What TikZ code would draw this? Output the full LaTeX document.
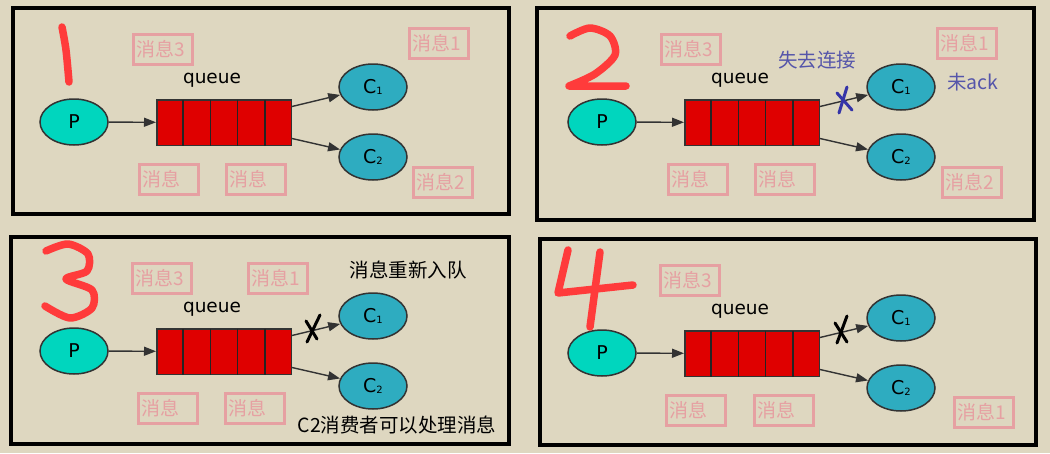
\documentclass[tikz,border=0pt]{standalone}
\usepackage{fontspec}
\setmainfont{DejaVu Sans}
\newfontfamily\cjk{Noto Sans CJK SC}
\usepackage{tikz}
\usetikzlibrary{arrows.meta, shapes.geometric}
\definecolor{mqbg}{HTML}{DED7C0}
\definecolor{mqprod}{HTML}{00D6BE}
\definecolor{mqcons}{HTML}{2EACC0}
\definecolor{mqred}{HTML}{DF0000}
\definecolor{mqline}{HTML}{333333}
\definecolor{mqpink}{HTML}{E6A0A2}
\definecolor{mqslate}{HTML}{5555AA}
\definecolor{mqxblue}{HTML}{3434A8}
\definecolor{mqhand}{HTML}{FF3B3B}
\tikzset{
  producer/.style={ellipse, draw=mqline, line width=1.5pt, fill=mqprod,
    minimum width=68pt, minimum height=46pt, inner sep=0pt,
    font=\fontsize{19}{19}\selectfont},
  consumer/.style={producer, fill=mqcons},
  qbox/.style={draw=mqline, line width=1.5pt, fill=mqred,
    minimum width=134.5pt, minimum height=45.5pt, inner sep=0pt},
  qcell/.style={draw=mqline!70!black, line width=1.5pt},
  flow/.style={draw=mqline, line width=1.4pt, -{Triangle[length=12pt,width=9pt]}},
  msgbox/.style={draw=mqpink, line width=3pt, text=mqpink,
    font=\cjk\fontsize{19}{19}\selectfont, minimum height=30pt,
    text width=53pt, inner xsep=3pt, inner ysep=0pt, align=left},
  note/.style={font=\cjk\fontsize{19.5}{19.5}\selectfont, inner sep=0pt},
  panelframe/.style={draw=black, line width=4pt},
  hand/.style={draw=mqhand, line width=7.5pt, line cap=round, line join=round},
  cross/.style={line width=3pt, line cap=round},
}
\newcommand{\csub}[1]{\raisebox{-1.5pt}{\fontsize{10}{10}\selectfont #1}}
%% #1 prefix, #2 #3 shift, #4 panel labels
\newcommand{\mqpanel}[4]{%
  \begin{scope}[shift={(#2,#3)}]
    \node[producer] (#1p) at (74,122) {P};
    \node[qbox] (#1q) at (224,122.5) {};
    \foreach \i in {1,...,4}
      \draw[qcell] (156+27.2*\i,99.5) -- (156+27.2*\i,145.5);
    \node[font=\fontsize{18.5}{18.5}\selectfont] (#1ql) at (212,80) {queue};
    \node[consumer] (#1c1) at (373,87) {C\csub{1}};
    \node[consumer] (#1c2) at (373,157) {C\csub{2}};
    \coordinate (#1qa) at (292,106.5);
    \coordinate (#1qb) at (292,138.5);
    \draw[flow] (#1p) -- (#1q);
    \draw[flow] (#1qa) -- (#1c1);
    \draw[flow] (#1qb) -- (#1c2);
    #4
  \end{scope}%
}

\begin{document}
\begin{tikzpicture}[x=1pt, y=-1pt]

  \fill[mqbg] (0,0) rectangle (1050,453);
  \useasboundingbox (0,0) rectangle (1050,453);

  %% frames
  \draw[panelframe] (13,8) rectangle (509,214);
  \draw[panelframe] (537,8) rectangle (1034,220);
  \draw[panelframe] (11,236.5) rectangle (508.5,444);
  \draw[panelframe] (540,239) rectangle (1036,445);

  %% 1
  \mqpanel{a}{0}{0}{%
    \node[msgbox] (am3) at (162.5,49.5) {消息3};
    \node[msgbox] (am1) at (439,43.5) {消息1};
    \node[msgbox] (ama) at (168.5,179.5) {消息};
    \node[msgbox] (amb) at (256,179.5) {消息};
    \node[msgbox] (am2) at (443,182.5) {消息2};
  }

  %% 2 -- C1 loses its connection
  \mqpanel{b}{528}{0}{%
    \node[msgbox] (bm3) at (162.5,49.5) {消息3};
    \node[msgbox] (bm1) at (439,43.5) {消息1};
    \node[msgbox] (bma) at (169.5,179.5) {消息};
    \node[msgbox] (bmb) at (256.5,179.5) {消息};
    \node[msgbox] (bm2) at (443.5,182.5) {消息2};
    \node[note, text=mqslate] (blost) at (289,60) {失去连接};
    \node[note, text=mqslate] (bnack) at (445,82) {未ack};
    \draw[cross, mqxblue] (309,93) -- (324,110);
    \draw[cross, mqxblue] (319,87) -- (311,113);
  }

  %% 3 -- requeue
  \mqpanel{c}{0}{229}{%
    \node[msgbox] (cm3) at (162,49.5) {消息3};
    \node[msgbox] (cm1) at (277.5,49.5) {消息1};
    \node[msgbox] (cma) at (167.5,179.5) {消息};
    \node[msgbox] (cmb) at (254.5,179.5) {消息};
    \node[note] (creq) at (408,41) {消息重新入队};
    \node[note] (cc2) at (397,196) {C2消费者可以处理消息};
    \draw[cross] (306,92) -- (317,110);
    \draw[cross] (320,86) -- (307,113);
  }

  %% 4
  \mqpanel{d}{528}{231}{%
    \node[msgbox] (dm3) at (162,49) {消息3};
    \node[msgbox] (dma) at (168,179.5) {消息};
    \node[msgbox] (dmb) at (255.5,179.5) {消息};
    \node[msgbox] (dm1) at (456,181) {消息1};
    \draw[cross] (307,92) -- (319,111);
    \draw[cross] (319,85) -- (309,112);
  }

  %% handwritten step numbers
  \draw[hand] plot[smooth] coordinates {(62,27) (66,50) (69,82)};
  \draw[hand] plot[smooth] coordinates {(570,36) (590,28) (610,36) (615,55) (595,74) (569,86)}
    -- (626,86);
  \draw[hand] plot[smooth] coordinates {(46,251) (68,244) (88,254) (87,271) (66,279)
    (92,290) (92,308) (70,318) (45,306)};
  \draw[hand] (568,250) -- (558,293) -- (633,285);
  \draw[hand] (600,252) -- (590,327);

\end{tikzpicture}
\end{document}
